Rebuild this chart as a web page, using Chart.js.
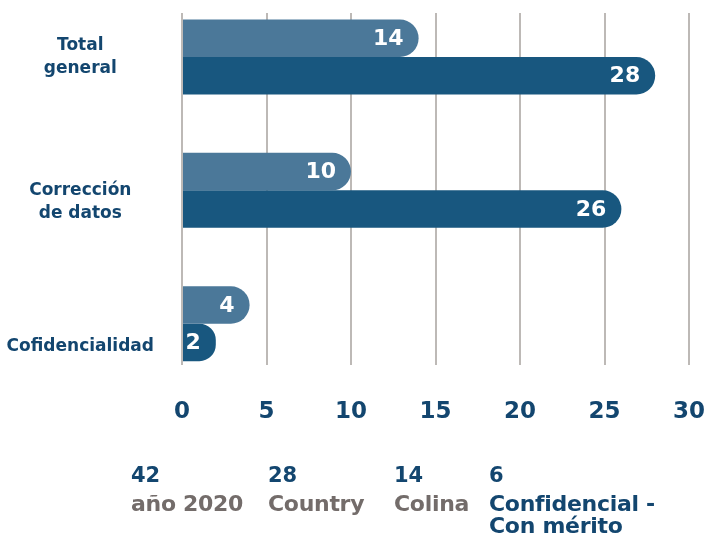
<!DOCTYPE html>
<html>
<head>
<meta charset="utf-8">
<script src="https://cdn.jsdelivr.net/npm/chart.js"></script>
<style>
  html, body { margin: 0; padding: 0; background: #fff; }
  #wrap { position: relative; width: 722px; height: 536px; overflow: hidden; }
  .num, .lbl { position: absolute; font-family: "DejaVu Sans", sans-serif; font-weight: bold; white-space: nowrap; }
  .num { font-size: 21px; line-height: 24px; color: #13466f; }
  .lbl { font-size: 22px; line-height: 22px; color: #736c6a; letter-spacing: -0.3px; }
</style>
</head>
<body>
<div id="wrap">
  <canvas id="grafico-totales"></canvas>
</div>
<script>
// categorias y series
const categorias = [["Total", "general"], ["Corrección", "de datos"], "Cofidencialidad"];
const serieClara = [14, 10, 4];
const serieOscura = [28, 26, 2];
const ticksEjeX = [0, 5, 10, 15, 20, 25, 30];

// textos de abajo
const resumenValores = [42, 28, 14, 6];
const resumenTextos = ["año 2020", "Country", "Colina", "Confidencial -\nCon mérito"];

const azulOscuro = "#13466f";

// numeros blancos al final de cada barra
const etiquetasBarras = {
    id: "etiquetasBarras",
    afterDatasetsDraw(chart) {
        const ctx = chart.ctx;
        ctx.save();
        ctx.fillStyle = "#ffffff";
        ctx.font = "bold 22px 'DejaVu Sans'";
        ctx.textAlign = "right";
        ctx.textBaseline = "middle";
        chart.data.datasets.forEach((ds, i) => {
            chart.getDatasetMeta(i).data.forEach((bar, j) => {
                ctx.fillText(ds.data[j].x, bar.x - 15, bar.y + 1);
            });
        });
        ctx.restore();
    }
};

// sin relleno extra de los ejes, el area queda fija por layout.padding
function sinRelleno(axis) {
    axis.paddingTop = 0;
    axis.paddingBottom = 0;
    axis.paddingLeft = 0;
    axis.paddingRight = 0;
}

const dataTotales = {
    datasets: [
        {
            data: serieClara.map((v, i) => ({ x: v, y: i })),
            backgroundColor: "#4b7899",
            borderWidth: 0,
            borderRadius: 19,
            borderSkipped: "start",
            categoryPercentage: 0.562,
            barPercentage: 1,
        },
        {
            data: serieOscura.map((v, i) => ({ x: v, y: i })),
            backgroundColor: "#18577f",
            borderWidth: 0,
            borderRadius: 19,
            borderSkipped: "start",
            categoryPercentage: 0.562,
            barPercentage: 1,
        },
    ],
};

const configTotales = {
    type: "bar",
    data: dataTotales,
    options: {
        indexAxis: "y",
        responsive: false,
        animation: false,
        layout: {
            padding: { top: 13, right: 33, bottom: 0, left: 0 }
        },
        scales: {
            x: {
                type: "linear",
                min: 0,
                max: 30,
                afterBuildTicks: (axis) => {
                    axis.ticks = ticksEjeX.map((v) => ({ value: v }));
                },
                afterFit: (axis) => {
                    axis.height = 171;
                    sinRelleno(axis);
                },
                grid: {
                    color: "#bdb9b6",
                    lineWidth: 2,
                    drawTicks: false,
                },
                border: { display: false },
                ticks: {
                    padding: 33,
                    color: azulOscuro,
                    font: { family: "DejaVu Sans", size: 23, weight: "bold" },
                },
            },
            y: {
                type: "linear",
                reverse: true,
                offset: false,
                bounds: "data",
                min: -0.33,
                max: 2.31,
                afterBuildTicks: (axis) => {
                    axis.ticks = categorias.map((c, i) => ({ value: i }));
                },
                afterFit: (axis) => {
                    axis.width = 182;
                    sinRelleno(axis);
                },
                grid: { display: false, offset: false },
                border: { display: false },
                ticks: {
                    autoSkip: false,
                    crossAlign: "center",
                    padding: 20,
                    color: azulOscuro,
                    font: { family: "DejaVu Sans", size: 17, weight: "bold", lineHeight: 1.35 },
                    callback: function (value, index) {
                        const c = categorias[value];
                        // las etiquetas de abajo van algo mas bajas que el centro
                        if (index === 1) return [""].concat(c);
                        if (index === 2) return ["", "", c];
                        return c;
                    },
                },
            },
        },
        plugins: {
            legend: { display: false },
            tooltip: { enabled: false },
        },
    },
    plugins: [etiquetasBarras],
};

const canvas = document.getElementById("grafico-totales");
canvas.width = 722;
canvas.height = 536;
new Chart(canvas, configTotales);

// resumen debajo del grafico
const wrap = document.getElementById("wrap");
const columnasX = [131, 268, 394, 489];
resumenValores.forEach((v, i) => {
    const n = document.createElement("div");
    n.className = "num";
    n.style.left = columnasX[i] + "px";
    n.style.top = "463px";
    n.textContent = v;
    wrap.appendChild(n);

    const t = document.createElement("div");
    t.className = "lbl";
    t.style.left = columnasX[i] + "px";
    t.style.top = "493px";
    if (i === resumenValores.length - 1) t.style.color = azulOscuro;
    t.innerHTML = resumenTextos[i].split("\n").join("<br>");
    wrap.appendChild(t);
});
</script>
</body>
</html>
